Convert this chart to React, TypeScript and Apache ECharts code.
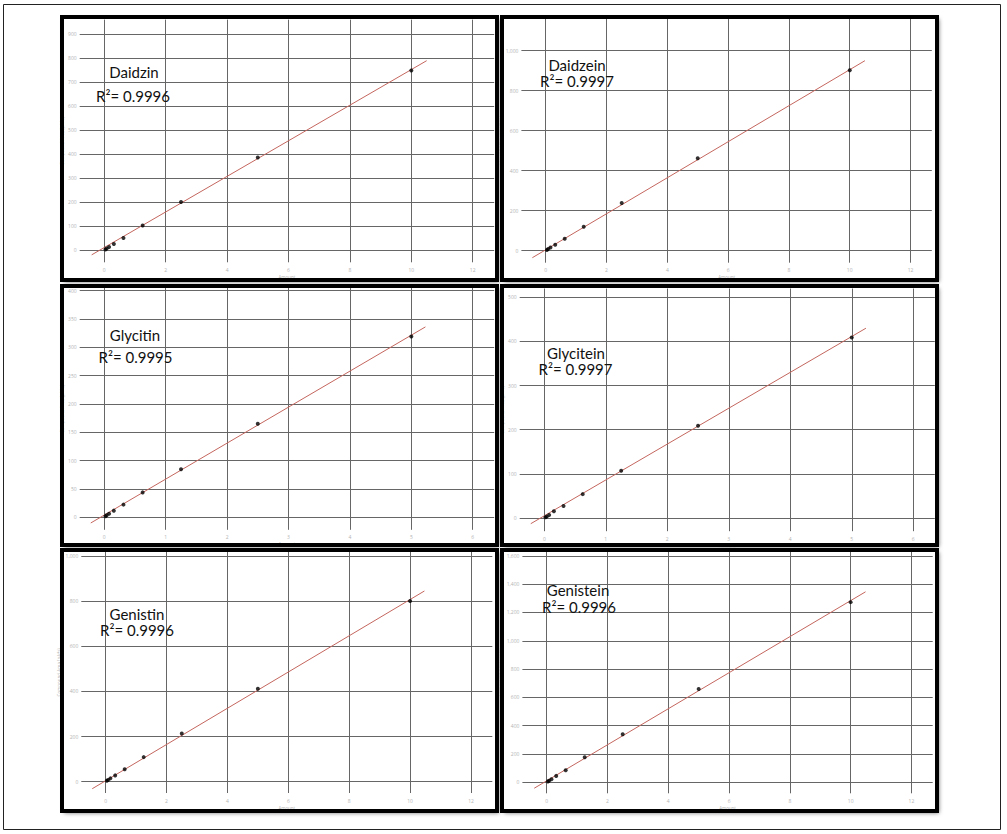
import React, { useEffect, useRef } from 'react';
import * as echarts from 'echarts';

// calibration standards (amount injected)
const amountFull = [0.039, 0.078, 0.156, 0.3125, 0.625, 1.25, 2.5, 5, 10];
const amountHalf = [0.0195, 0.039, 0.078, 0.156, 0.3125, 0.625, 1.25, 2.5, 5];

// compound area
const daidzinArea = [3, 7, 14, 26, 51, 103, 201, 386, 748];
const daidzeinArea = [4, 8, 16, 30, 60, 120, 238, 462, 902];
const glycitinArea = [1.8, 3.5, 6.5, 11.8, 22.4, 44, 85, 165, 319];
const glyciteinArea = [1.5, 3, 6.8, 15, 27, 54, 107, 209, 409];
const genistinArea = [4.4, 7.4, 14.8, 28, 55, 109, 214, 412, 801];
const genisteinArea = [5, 10, 21, 45, 85, 177, 339, 659, 1273];

// end points of the fitted lines
const daidzinFitX = [-0.41, 10.5];
const daidzinFitY = [-19, 789];
const daidzeinFitX = [-0.44, 10.5];
const daidzeinFitY = [-35, 950];
const glycitinFitX = [-0.22, 5.23];
const glycitinFitY = [-10, 336];
const glyciteinFitX = [-0.22, 5.23];
const glyciteinFitY = [-13, 430];
const genistinFitX = [-0.44, 10.47];
const genistinFitY = [-31, 845];
const genisteinFitX = [-0.41, 10.49];
const genisteinFitY = [-42, 1346];

// tick labels
const xTicksFull = [0, 2, 4, 6, 8, 10, 12];
const xTicksHalf = [0, 1, 2, 3, 4, 5, 6];
const daidzinYTicks = [0, 100, 200, 300, 400, 500, 600, 700, 800, 900];
const daidzeinYTicks = [0, 200, 400, 600, 800, 1000];
const glycitinYTicks = [0, 50, 100, 150, 200, 250, 300, 350, 400];
const glyciteinYTicks = [0, 100, 200, 300, 400, 500];
const genistinYTicks = [0, 200, 400, 600, 800, 1000];
const genisteinYTicks = [0, 200, 400, 600, 800, 1000, 1200, 1400, 1600];

const compounds = ['Daidzin', 'Daidzein', 'Glycitin', 'Glycitein', 'Genistin', 'Genistein'];
const rSquared = ['0.9996', '0.9997', '0.9995', '0.9997', '0.9996', '0.9996'];

const xAxisName = 'Amount';
const yAxisName = 'Compound Area (pA*s)';

const App: React.FC = () => {
  const chartRef = useRef<HTMLDivElement>(null);

  useEffect(() => {
    if (!chartRef.current) return;
    const chart = echarts.init(chartRef.current, undefined, { renderer: 'svg' });

    const panels = [
      { x: amountFull, y: daidzinArea, fx: daidzinFitX, fy: daidzinFitY, xt: xTicksFull, yt: daidzinYTicks },
      { x: amountFull, y: daidzeinArea, fx: daidzeinFitX, fy: daidzeinFitY, xt: xTicksFull, yt: daidzeinYTicks },
      { x: amountHalf, y: glycitinArea, fx: glycitinFitX, fy: glycitinFitY, xt: xTicksHalf, yt: glycitinYTicks },
      { x: amountHalf, y: glyciteinArea, fx: glyciteinFitX, fy: glyciteinFitY, xt: xTicksHalf, yt: glyciteinYTicks },
      { x: amountFull, y: genistinArea, fx: genistinFitX, fy: genistinFitY, xt: xTicksFull, yt: genistinYTicks },
      { x: amountFull, y: genisteinArea, fx: genisteinFitX, fy: genisteinFitY, xt: xTicksFull, yt: genisteinYTicks },
    ];

    // layout: outer box of each framed panel, plot area and axis ranges
    const boxes = [
      { x: 60, y: 15, w: 439, h: 267 },
      { x: 500, y: 15, w: 439, h: 267 },
      { x: 60, y: 284, w: 439, h: 263 },
      { x: 500, y: 284, w: 439, h: 263 },
      { x: 60, y: 548, w: 439, h: 265 },
      { x: 500, y: 548, w: 439, h: 265 },
    ];
    const plots = [
      { left: 79.7, top: 19.6, width: 414.5, height: 242.7, xMin: -0.8, xMax: 12.7, yMin: -50, yMax: 960 },
      { left: 521.4, top: 18.7, width: 410.4, height: 244, xMin: -0.8, xMax: 12.7, yMin: -60, yMax: 1160 },
      { left: 79.7, top: 287.8, width: 414.5, height: 242, xMin: -0.4, xMax: 6.35, yMin: -22, yMax: 405 },
      { left: 519.7, top: 288.5, width: 415.1, height: 242.7, xMin: -0.4, xMax: 6.35, yMin: -30, yMax: 520 },
      { left: 81.3, top: 551.5, width: 411, height: 241.5, xMin: -0.8, xMax: 12.7, yMin: -50, yMax: 1020 },
      { left: 522.4, top: 550.2, width: 410.3, height: 243.1, xMin: -0.8, xMax: 12.7, yMin: -78, yMax: 1640 },
    ];
    // centre x and baselines of the name line and the R² line
    const titlePos = [
      { x: 134, b1: 77, x2: 133, b2: 101 },
      { x: 577, b1: 70, x2: 577, b2: 86 },
      { x: 135, b1: 340, x2: 135.5, b2: 362 },
      { x: 576, b1: 358, x2: 575.5, b2: 374 },
      { x: 137, b1: 619, x2: 137, b2: 635 },
      { x: 578, b1: 595.5, x2: 579, b2: 612 },
    ];

    const tickColor = '#b4b4b4';
    const gridColor = '#666';
    const titleFont = 15;
    const font = 'Lato';

    const graphic: any[] = [
      {
        type: 'rect',
        shape: { x: 3.5, y: 4.5, width: 997, height: 825 },
        style: { fill: 'none', stroke: '#222', lineWidth: 1 },
        z: 1,
      },
    ];
    boxes.forEach((b) => {
      graphic.push({
        type: 'rect',
        shape: { x: b.x + 2, y: b.y + 2, width: b.w - 4, height: b.h - 4 },
        style: {
          fill: '#fff',
          shadowBlur: 4,
          shadowOffsetX: 2,
          shadowOffsetY: 2,
          shadowColor: 'rgba(0,0,0,0.55)',
        },
        z: -10,
      });
      graphic.push({
        type: 'rect',
        shape: { x: b.x + 2, y: b.y + 2, width: b.w - 4, height: b.h - 4 },
        style: { fill: 'none', stroke: '#000', lineWidth: 4 },
        z: 50,
      });
    });
    titlePos.forEach((t, i) => {
      graphic.push({
        type: 'text',
        x: t.x,
        y: t.b1 - 5.5,
        z: 50,
        style: {
          text: compounds[i],
          fontFamily: font,
          fontSize: titleFont,
          fill: '#111',
          align: 'center',
          verticalAlign: 'middle',
        },
      });
      graphic.push({
        type: 'text',
        x: t.x2,
        y: t.b2 - 5.5,
        z: 50,
        style: {
          text: 'R\u00b2= ' + rSquared[i],
          fontFamily: font,
          fontSize: titleFont,
          fill: '#111',
          align: 'center',
          verticalAlign: 'middle',
        },
      });
    });

    const option: echarts.EChartsOption = {
      animation: false,
      backgroundColor: '#fff',
      grid: plots.map((p) => ({ left: p.left, top: p.top, width: p.width, height: p.height })),
      xAxis: panels.map((p, i) => ({
        type: 'value',
        gridIndex: i,
        min: plots[i].xMin,
        max: plots[i].xMax,
        name: xAxisName,
        nameLocation: 'middle',
        nameGap: 12,
        nameTextStyle: { fontSize: 4.5, color: tickColor, fontFamily: 'Open Sans' },
        axisLine: { show: false },
        axisTick: { show: false, customValues: p.xt },
        axisLabel: { customValues: p.xt, fontSize: 5, color: tickColor, margin: 5, fontFamily: 'Open Sans' },
        splitLine: { show: true, lineStyle: { color: gridColor, width: 1 } },
      })),
      yAxis: panels.map((p, i) => ({
        type: 'value',
        gridIndex: i,
        min: plots[i].yMin,
        max: plots[i].yMax,
        name: yAxisName,
        nameLocation: 'middle',
        nameGap: 11,
        nameTextStyle: { fontSize: 4.5, color: tickColor, fontFamily: 'Open Sans' },
        axisLine: { show: false },
        axisTick: { show: false, customValues: p.yt },
        axisLabel: { customValues: p.yt, fontSize: 5, color: tickColor, margin: 3, fontFamily: 'Open Sans' },
        splitLine: { show: true, lineStyle: { color: gridColor, width: 1 } },
      })),
      series: panels.flatMap((p, i) => [
        {
          type: 'line',
          xAxisIndex: i,
          yAxisIndex: i,
          data: p.fx.map((v, k) => [v, p.fy[k]]),
          showSymbol: false,
          lineStyle: { color: '#c4665e', width: 1 },
          silent: true,
          z: 3,
        },
        {
          type: 'scatter',
          xAxisIndex: i,
          yAxisIndex: i,
          data: p.x.map((v, k) => [v, p.y[k]]),
          symbol: 'circle',
          symbolSize: 4,
          itemStyle: { color: '#000' },
          z: 4,
        },
      ]) as any,
      graphic,
    };

    chart.setOption(option);

    return () => {
      chart.dispose();
    };
  }, []);

  return (
    <div
      ref={chartRef}
      style={{ position: 'absolute', left: 0, top: 0, width: '1007px', height: '834px', background: '#fff' }}
    />
  );
};

export default App;
